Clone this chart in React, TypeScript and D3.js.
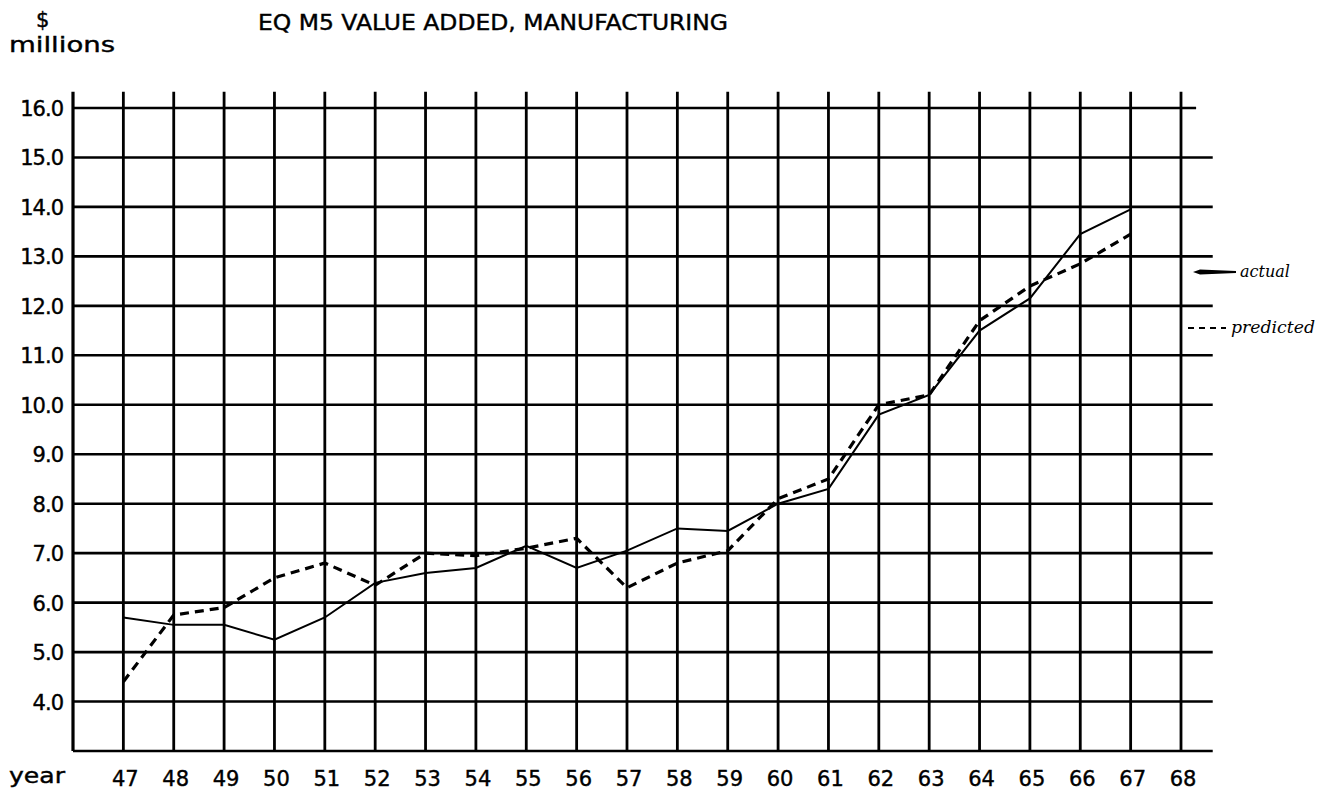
import React, { useEffect } from 'react';
import * as d3 from 'd3';

// values ($ millions)
const years = [47, 48, 49, 50, 51, 52, 53, 54, 55, 56, 57, 58, 59, 60, 61, 62, 63, 64, 65, 66, 67];
const actual = [5.7, 5.55, 5.55, 5.25, 5.7, 6.4, 6.6, 6.7, 7.15, 6.7, 7.05, 7.5, 7.45, 8.0, 8.3, 9.8, 10.2, 11.5, 12.15, 13.45, 13.95];
const predicted = [4.4, 5.75, 5.9, 6.5, 6.8, 6.35, 7.0, 6.95, 7.1, 7.3, 6.3, 6.8, 7.05, 8.1, 8.5, 10.0, 10.2, 11.7, 12.4, 12.85, 13.45];
const yTicks = [4, 5, 6, 7, 8, 9, 10, 11, 12, 13, 14, 15, 16];
const xTicks = [47, 48, 49, 50, 51, 52, 53, 54, 55, 56, 57, 58, 59, 60, 61, 62, 63, 64, 65, 66, 67, 68];

const W = 1320;
const H = 794;
const FONT = '"DejaVu Sans", sans-serif';
const HAND = '"DejaVu Serif", serif';

const App = () => {
  useEffect(() => {
    document.body.style.margin = '0';
  }, []);

  // x: year 46 sits on the left axis, grid runs a bit past 68
  const x = d3.scaleLinear().domain([46, 68]).range([73, 1181]);
  const y = d3.scaleLinear().domain([3, 16]).range([751, 108]);
  const right = x(68.63);
  const top = y(16.33);

  const line = d3.line<number>()
    .x((_, i) => x(years[i]))
    .y(d => y(d));

  return (
    <svg width={W} height={H} style={{ display: 'block', background: '#fff' }}>
      {/* title and unit labels */}
      <g fontFamily={FONT} stroke="#000" strokeWidth={0.4}>
        <text x={36} y={27} fontSize={21}>$</text>
        <text x={258} y={30} fontSize={22} textLength={470} lengthAdjust="spacingAndGlyphs">
          EQ M5 VALUE ADDED, MANUFACTURING
        </text>
        <text x={9} y={52} fontSize={21} textLength={106} lengthAdjust="spacingAndGlyphs">millions</text>
      </g>

      {/* horizontal grid */}
      {yTicks.map(t => (
        <line key={'h' + t} x1={x(46)} x2={t === 16 ? x(68.3) : right} y1={y(t)} y2={y(t)} stroke="#000" strokeWidth={2.6} />
      ))}
      {/* vertical grid */}
      {xTicks.map(t => (
        <line key={'v' + t} x1={x(t)} x2={x(t)} y1={top} y2={y(3)} stroke="#000" strokeWidth={2.8} />
      ))}
      {/* axes */}
      <line x1={x(46)} x2={x(46)} y1={top} y2={y(3)} stroke="#000" strokeWidth={3.2} />
      <line x1={x(46)} x2={right} y1={y(3)} y2={y(3)} stroke="#000" strokeWidth={2.6} />

      {/* tick labels */}
      <g fontFamily={FONT} fontSize={21} stroke="#000" strokeWidth={0.4}>
        {yTicks.map(t => (
          <text key={'yl' + t} x={63} y={y(t) + 8} textAnchor="end" letterSpacing={-1}>
            {t.toFixed(1)}
          </text>
        ))}
        <text x={9} y={783} textLength={56} lengthAdjust="spacingAndGlyphs">year</text>
        {xTicks.map(t => (
          <text key={'xl' + t} x={x(t) + 2} y={786} textAnchor="middle">
            {t}
          </text>
        ))}
      </g>

      {/* series */}
      <path d={line(predicted) || ''} fill="none" stroke="#000" strokeWidth={3.2} strokeDasharray="9 6" />
      <path d={line(actual) || ''} fill="none" stroke="#000" strokeWidth={2} />

      {/* handwritten legend */}
      <path d="M1193,272 L1200,269.5 L1236,271 L1236,273 L1200,274.5 Z" fill="#000" />
      <text x={1240} y={277} fontFamily={HAND} fontStyle="italic" fontSize={16}>actual</text>
      <line x1={1188} x2={1226} y1={328} y2={328} stroke="#000" strokeWidth={2} strokeDasharray="6 5" />
      <text x={1231} y={333} fontFamily={HAND} fontStyle="italic" fontSize={16} textLength={84} lengthAdjust="spacingAndGlyphs">predicted</text>
    </svg>
  );
};

export default App;
